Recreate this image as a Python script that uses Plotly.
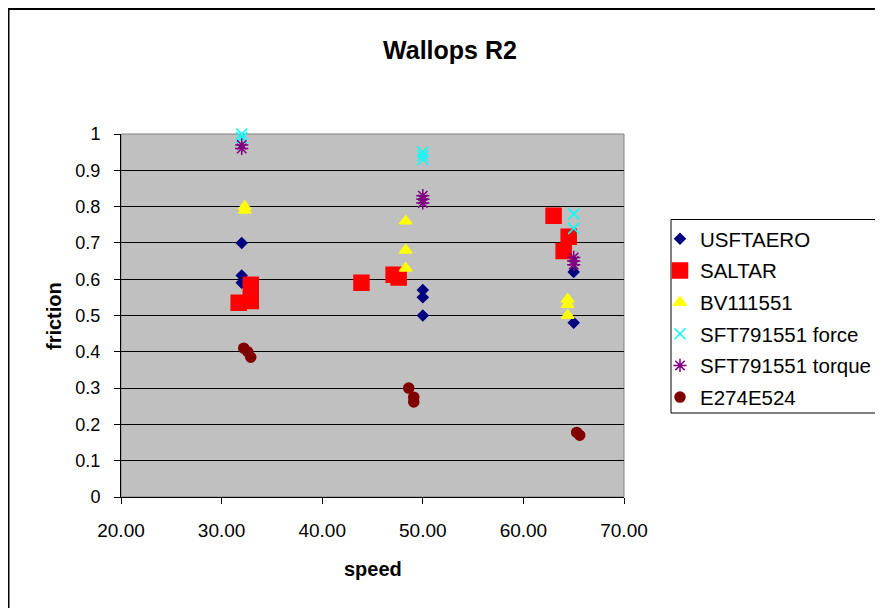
import plotly.graph_objects as go

# ---- data ----
usftaero_x = [32.0, 32.0, 32.0, 50.0, 50.0, 50.0, 65.0, 65.0]
usftaero_y = [0.70, 0.61, 0.59, 0.57, 0.55, 0.50, 0.62, 0.48]

saltar_x = [31.7, 32.9, 32.9, 43.9, 47.1, 47.6, 63.0, 64.5, 64.0]
saltar_y = [0.535, 0.585, 0.54, 0.59, 0.612, 0.605, 0.775, 0.717, 0.678]

bv_x = [32.3, 32.3, 48.3, 48.3, 48.3, 64.4, 64.4, 64.4]
bv_y = [0.80, 0.79, 0.76, 0.68, 0.63, 0.545, 0.53, 0.50]

sftf_x = [32.0, 32.0, 50.0, 50.0, 50.0, 65.0, 65.0]
sftf_y = [1.00, 0.99, 0.95, 0.94, 0.93, 0.78, 0.74]

sftt_x = [32.0, 32.0, 50.0, 50.0, 50.0, 65.0, 65.0, 65.0]
sftt_y = [0.97, 0.96, 0.83, 0.82, 0.81, 0.66, 0.65, 0.64]

e27_x = [32.2, 32.6, 32.9, 48.6, 49.1, 49.1, 65.3, 65.6]
e27_y = [0.41, 0.40, 0.385, 0.30, 0.275, 0.262, 0.178, 0.170]

series = [
    ("USFTAERO", usftaero_x, usftaero_y, "diamond", "#000080", 8),
    ("SALTAR", saltar_x, saltar_y, "square", "#FF0000", 15),
    ("BV111551", bv_x, bv_y, "triangle-up", "#FFFF00", 11),
    ("SFT791551 force", sftf_x, sftf_y, "x-thin", "#00FFFF", 11),
    ("SFT791551 torque", sftt_x, sftt_y, "asterisk", "#800080", 11),
    ("E274E524", e27_x, e27_y, "circle", "#800000", 10),
]

FONT = "Liberation Sans, Arial, sans-serif"

# plot area in figure pixels (page offset of 8px removed)
L, R, T, B = 113, 616, 126, 489
W, H = 883, 608
PW, PH = R - L, B - T


def px(x):  # page x -> paper x
    return (x - 8 - L) / PW


def py(y):  # page y -> paper y
    return (B - (y - 8)) / PH


fig = go.Figure()
for i, (name, xs, ys, sym, col, sz) in enumerate(series):
    fig.add_trace(go.Scatter(
        x=xs, y=ys, mode="markers", name=name, legendgroup=f"g{i}",
        marker=dict(symbol=sym, color=col, size=sz,
                    line=dict(color=col, width=1.5)),
        cliponaxis=False,
    ))

fig.update_layout(
    width=W, height=H,
    margin=dict(l=L, r=W - R, t=T, b=H - B),
    paper_bgcolor="white",
    plot_bgcolor="#C0C0C0",
    font=dict(family=FONT, size=18, color="black"),
    title=dict(text="<b>Wallops R2</b>", x=(450 - 8) / W, xref="container",
               xanchor="center", y=1 - (50 - 8) / H, yref="container",
               yanchor="middle", font=dict(size=25, family=FONT)),
    showlegend=True,
    legend=dict(x=px(660), y=py(219), xanchor="left", yanchor="top",
                borderwidth=0, bgcolor="rgba(0,0,0,0)",
                font=dict(size=20.5, family=FONT), tracegroupgap=2,
                itemsizing="trace"),
    xaxis=dict(range=[20, 70], tick0=20, dtick=10, tickformat=".2f",
               showgrid=False, zeroline=False, showline=True, linecolor="black",
               linewidth=1, ticks="outside", ticklen=6, tickcolor="black",
               ticklabelstandoff=10, tickfont=dict(size=19)),
    yaxis=dict(range=[0, 1], tick0=0, dtick=0.1, showgrid=True, gridcolor="black",
               gridwidth=1, zeroline=False, showline=True, linecolor="black",
               linewidth=1, ticks="outside", ticklen=6, tickcolor="black",
               ticklabelstandoff=10, tickfont=dict(size=18)),
    annotations=[
        dict(text="<b>speed</b>", showarrow=False, font=dict(size=20),
             xref="paper", yref="paper", x=px(373), y=py(569),
             xanchor="center", yanchor="middle"),
        dict(text="<b>friction</b>", textangle=-90, showarrow=False,
             font=dict(size=20), xref="paper", yref="paper",
             x=px(54), y=py(316), xanchor="center", yanchor="middle"),
    ],
    shapes=[
        dict(type="rect", xref="paper", yref="paper", x0=0, x1=1, y0=0, y1=1,
             line=dict(color="#808080", width=1), layer="below"),
        # legend box
        dict(type="rect", xref="paper", yref="paper",
             x0=px(671), x1=px(878), y0=py(413), y1=py(219.5),
             line=dict(color="black", width=1), layer="above"),
        # chart outer border
        dict(type="rect", xref="paper", yref="paper",
             x0=px(8.5), x1=1.8, y0=-0.6, y1=py(9),
             line=dict(color="black", width=2), layer="above"),
    ],
)

fig.write_html("out.html")
